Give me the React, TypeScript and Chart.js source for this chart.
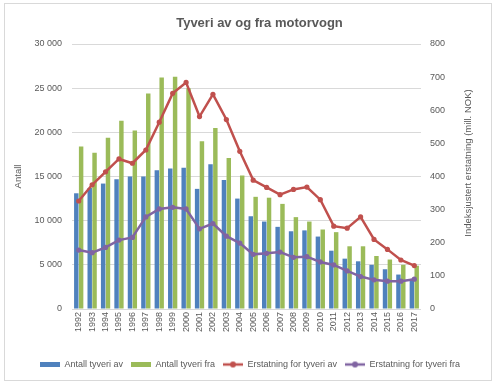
import React, { useEffect, useRef } from 'react';
import { Chart, registerables } from 'chart.js';

Chart.register(...registerables);

const chartTitle = 'Tyveri av og fra motorvogn';
const leftAxisTitle = 'Antall';
const rightAxisTitle = 'Indeksjustert erstatning (mill. NOK)';

const years = [
  '1992', '1993', '1994', '1995', '1996', '1997', '1998', '1999', '2000', '2001', '2002', '2003', '2004',
  '2005', '2006', '2007', '2008', '2009', '2010', '2011', '2012', '2013', '2014', '2015', '2016', '2017',
];

const antallTyveriAv = [
  13100, 13700, 14200, 14700, 15000, 15000, 15700, 15900, 16000, 13600, 16400, 14600, 12500,
  10500, 9900, 9300, 8800, 8900, 8200, 6600, 5700, 5400, 5000, 4500, 3900, 3400,
];

const antallTyveriFra = [
  18400, 17700, 19400, 21300, 20200, 24400, 26200, 26300, 25000, 19000, 20500, 17100, 15100,
  12700, 12600, 11900, 10400, 9900, 9000, 8700, 7100, 7100, 6000, 5600, 5000, 4900,
];

const erstatningAv = [
  326, 375, 414, 453, 440, 480, 564, 651, 684, 581, 648, 572, 476,
  389, 367, 345, 361, 368, 330, 250, 244, 278, 210, 180, 148, 131,
];

const erstatningFra = [
  178, 170, 186, 208, 216, 278, 302, 307, 302, 242, 258, 220, 199,
  165, 168, 172, 156, 158, 142, 133, 115, 98, 88, 84, 84, 90,
];

const seriesNames = ['Antall tyveri av', 'Antall tyveri fra', 'Erstatning for tyveri av', 'Erstatning for tyveri fra'];

const BLUE = '#4F81BD';
const GREEN = '#9BBB59';
const RED = '#C0504D';
const PURPLE = '#8064A2';
const TEXT = '#595959';
const GRID = '#D9D9D9';
const FONT = "'Liberation Sans', Arial, sans-serif";

function makeBox(color: string) {
  const c = document.createElement('canvas');
  c.width = 20;
  c.height = 5;
  const x = c.getContext('2d')!;
  x.fillStyle = color;
  x.fillRect(0, 0, 20, 5);
  return c;
}

function makeLine(color: string) {
  const c = document.createElement('canvas');
  c.width = 20;
  c.height = 8;
  const x = c.getContext('2d')!;
  x.strokeStyle = color;
  x.lineWidth = 2.5;
  x.beginPath();
  x.moveTo(0, 4);
  x.lineTo(20, 4);
  x.stroke();
  x.fillStyle = color;
  x.beginPath();
  x.arc(10, 4, 3, 0, Math.PI * 2);
  x.fill();
  return c;
}

function fmt(v: number) {
  return String(v).replace(/\B(?=(\d{3})+(?!\d))/g, ' ');
}

export default function App() {
  const ref = useRef<HTMLCanvasElement>(null);

  useEffect(() => {
    if (!ref.current) return;
    const styles = [makeBox(BLUE), makeBox(GREEN), makeLine(RED), makeLine(PURPLE)];

    const decor = {
      id: 'decor',
      beforeDraw(chart: any) {
        const ctx = chart.ctx;
        ctx.save();
        ctx.fillStyle = '#ffffff';
        ctx.fillRect(0, 0, chart.width, chart.height);
        ctx.strokeStyle = GRID;
        ctx.lineWidth = 1;
        ctx.strokeRect(4.5, 3.5, 487, 377);
        ctx.restore();
      },
      afterDraw(chart: any) {
        const ctx = chart.ctx;
        ctx.save();
        ctx.fillStyle = TEXT;
        ctx.font = `bold 13px ${FONT}`;
        ctx.textAlign = 'center';
        ctx.textBaseline = 'alphabetic';
        ctx.fillText(chartTitle, 259.5, 26.5);
        ctx.translate(468, 163);
        ctx.rotate(-Math.PI / 2);
        ctx.font = `9.5px ${FONT}`;
        ctx.textBaseline = 'middle';
        ctx.fillText(rightAxisTitle, 0, 0);
        ctx.restore();
      },
    };

    const defaultGen = (Chart.defaults.plugins.legend.labels as any).generateLabels;

    const chart = new Chart(ref.current, {
      type: 'bar',
      data: {
        labels: years,
        datasets: [
          {
            type: 'bar',
            label: seriesNames[0],
            data: antallTyveriAv,
            backgroundColor: BLUE,
            yAxisID: 'y',
            order: 1,
            categoryPercentage: 0.72,
            barPercentage: 0.92,
          },
          {
            type: 'bar',
            label: seriesNames[1],
            data: antallTyveriFra,
            backgroundColor: GREEN,
            yAxisID: 'y',
            order: 1,
            categoryPercentage: 0.72,
            barPercentage: 0.92,
          },
          {
            type: 'line',
            label: seriesNames[2],
            data: erstatningAv,
            borderColor: RED,
            backgroundColor: RED,
            pointBackgroundColor: RED,
            pointBorderColor: RED,
            borderWidth: 2.5,
            pointRadius: 2.6,
            pointBorderWidth: 0,
            tension: 0,
            yAxisID: 'y1',
            order: 0,
          },
          {
            type: 'line',
            label: seriesNames[3],
            data: erstatningFra,
            borderColor: PURPLE,
            backgroundColor: PURPLE,
            pointBackgroundColor: PURPLE,
            pointBorderColor: PURPLE,
            borderWidth: 2.5,
            pointRadius: 2.6,
            pointBorderWidth: 0,
            tension: 0,
            yAxisID: 'y1',
            order: 0,
          },
        ] as any,
      },
      options: {
        responsive: false,
        animation: false,
        devicePixelRatio: 1,
        layout: { padding: { top: 44, left: 0, right: 0, bottom: 8 } },
        plugins: {
          title: { display: false },
          tooltip: { enabled: false },
          legend: {
            display: true,
            position: 'bottom',
            labels: {
              usePointStyle: true,
              pointStyleWidth: 20,
              padding: 8,
              color: TEXT,
              font: { family: FONT, size: 9 },
              sort: (a: any, b: any) => a.datasetIndex - b.datasetIndex,
              generateLabels: (c: any) =>
                defaultGen(c).map((it: any) => ({ ...it, pointStyle: styles[it.datasetIndex] })),
            },
          },
        },
        scales: {
          x: {
            grid: { display: false, drawTicks: false },
            border: { display: false },
            ticks: {
              autoSkip: false,
              minRotation: 90,
              maxRotation: 90,
              padding: 3,
              color: TEXT,
              font: { family: FONT, size: 9 },
            },
            afterFit: (s: any) => {
              s.height = 43;
            },
          },
          y: {
            position: 'left',
            min: 0,
            max: 30000,
            ticks: {
              stepSize: 5000,
              padding: 10,
              color: TEXT,
              font: { family: FONT, size: 9 },
              callback: (v: any) => fmt(Number(v)),
            },
            grid: { color: GRID, lineWidth: 1, drawTicks: false },
            border: { display: false },
            title: {
              display: true,
              text: leftAxisTitle,
              color: TEXT,
              font: { family: FONT, size: 9.5 },
              padding: { top: 13, bottom: 0 },
            },
            afterFit: (s: any) => {
              s.width = 72;
            },
          },
          y1: {
            position: 'right',
            min: 0,
            max: 800,
            ticks: {
              stepSize: 100,
              padding: 9,
              color: TEXT,
              font: { family: FONT, size: 9 },
            },
            grid: { display: false, drawTicks: false, drawOnChartArea: false },
            border: { display: false },
            afterFit: (s: any) => {
              s.width = 79;
            },
          },
        },
      } as any,
      plugins: [decor],
    });

    return () => chart.destroy();
  }, []);

  return (
    <div style={{ position: 'fixed', left: 0, top: 0, width: 500, height: 387, background: '#fff' }}>
      <canvas ref={ref} width={500} height={387} style={{ display: 'block', width: 500, height: 387 }} />
    </div>
  );
}
